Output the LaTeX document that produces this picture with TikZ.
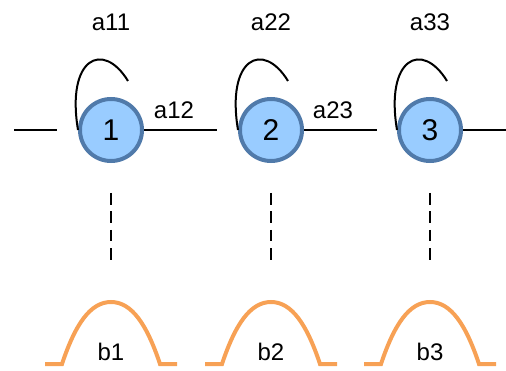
\documentclass[tikz,border=0pt]{standalone}
\usepackage{fontspec}
\setmainfont{Liberation Sans}
\definecolor{nodefill}{RGB}{153,204,255}
\definecolor{nodeedge}{RGB}{80,122,170}
\definecolor{bumpcol}{RGB}{247,161,85}
\begin{document}
\begin{tikzpicture}[x=1pt,y=-1pt,
  state/.style={circle,draw=nodeedge,fill=nodefill,line width=4pt,minimum size=62pt,inner sep=0pt,font=\fontsize{30}{34}\selectfont},
  lbl/.style={font=\fontsize{24}{28}\selectfont,inner sep=0pt},
  wire/.style={line width=2pt,black},
  loopline/.style={line width=2pt,black},
  vdash/.style={line width=1.5pt,black,dash pattern=on 11.7pt off 6.7pt},
  bump/.style={line width=4pt,bumpcol}]
\useasboundingbox (0,0) rectangle (506,371);
% states
\node[state] (n1) at (111,130) {1};
\node[state] (n2) at (271,130) {2};
\node[state] (n3) at (430,130) {3};
% horizontal lines
\coordinate (l0a) at (14,130);
\coordinate (l0b) at (57,130);
\coordinate (l1) at (217,130);
\coordinate (l2) at (377,130);
\coordinate (l3) at (506,130);
\draw[wire] (l0a) -- (l0b);
\draw[wire] (n1.east) -- (l1);
\draw[wire] (n2.east) -- (l2);
\draw[wire] (n3.east) -- (l3);
% self loops
\foreach \n/\x in {n1/111,n2/271,n3/430}{
  \coordinate (\n e) at (\x+17,81);
  \draw[loopline] (\n.west) .. controls +(-12,-72) and (\x-8,40) .. (\n e);
}
% labels
\node[lbl] (a11) at (111,22) {a11};
\node[lbl] (a22) at (271,22) {a22};
\node[lbl] (a33) at (430,22) {a33};
\node[lbl] (a12) at (174,110) {a12};
\node[lbl] (a23) at (333,110) {a23};
% dashed verticals
\foreach \n/\x in {n1/111,n2/271,n3/430}{
  \coordinate (\n da) at (\x,193);
  \coordinate (\n db) at (\x,260);
  \draw[vdash] (\n da) -- (\n db);
}
% bumps
\foreach \i/\x in {1/111,2/271,3/430}{
  \coordinate (bl\i) at (\x-66,364);
  \coordinate (br\i) at (\x+66,364);
  \draw[bump] (bl\i) -- (\x-49,364) .. controls (\x-36,325) and (\x-21,302) .. (\x,302)
     .. controls (\x+21,302) and (\x+36,325) .. (\x+49,364) -- (br\i);
  \node[lbl] (b\i) at (\x,352) {b\i};
}
\end{tikzpicture}
\end{document}
